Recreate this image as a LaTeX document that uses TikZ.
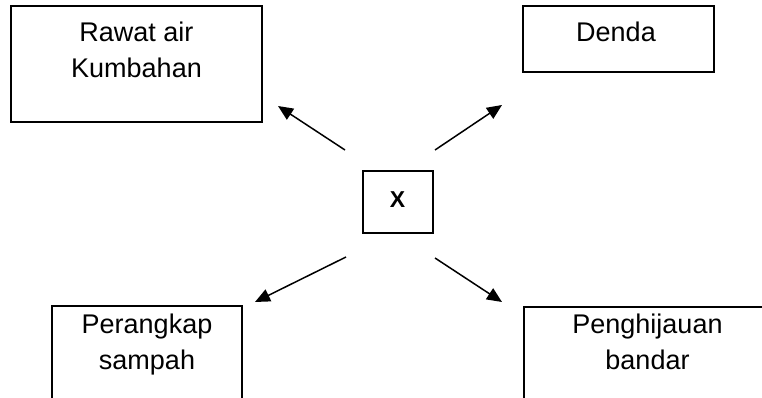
\documentclass[tikz,border=0pt]{standalone}
\usepackage{fontspec}
\setmainfont{Liberation Sans}
\usetikzlibrary{arrows.meta}
\begin{document}
\begin{tikzpicture}[x=1pt,y=-1pt,
  box/.style={draw=black, line width=1.5pt, inner sep=0pt, rectangle},
  txt/.style={inner sep=0pt, anchor=base, align=center, font=\fontsize{27}{36}\selectfont},
  arr/.style={line width=1.5pt, -{Triangle[length=15pt,width=13pt]}}
]
\useasboundingbox (0,0) rectangle (762,398);
\begin{scope}
\clip (0,0) rectangle (762,398);
% boxes
\node[box, minimum width=251pt, minimum height=116pt] (rawat) at (136.5,64) {};
\node[box, minimum width=191pt, minimum height=66pt] (denda) at (618.5,39) {};
\node[box, minimum width=70pt, minimum height=62pt] (x) at (398,202) {};
\node[box, minimum width=190pt, minimum height=120pt] (perangkap) at (147,366) {};
\node[box, minimum width=247pt, minimum height=120pt] (hijau) at (647.5,367) {};
% texts (base anchor = baseline of last line)
\node[txt] (trawat) at (136.5,78) {Rawat air\\Kumbahan};
\node[txt] (tdenda) at (616,42) {Denda};
\node[txt, font=\fontsize{23}{26}\selectfont\bfseries] (tx) at (397.5,207) {X};
\node[txt] (tperangkap) at (147,369) {Perangkap\\sampah};
\node[txt] (thijau) at (647.5,369) {Penghijauan\\bandar};
\end{scope}
% arrow ends
\coordinate (s1) at (345,150); \coordinate (e1) at (278,106);
\coordinate (s2) at (435,150); \coordinate (e2) at (502,105);
\coordinate (s3) at (346,257); \coordinate (e3) at (255,302);
\coordinate (s4) at (435,258); \coordinate (e4) at (502,302);
\draw[arr] (s1) -- (e1);
\draw[arr] (s2) -- (e2);
\draw[arr] (s3) -- (e3);
\draw[arr] (s4) -- (e4);
\end{tikzpicture}
\end{document}
